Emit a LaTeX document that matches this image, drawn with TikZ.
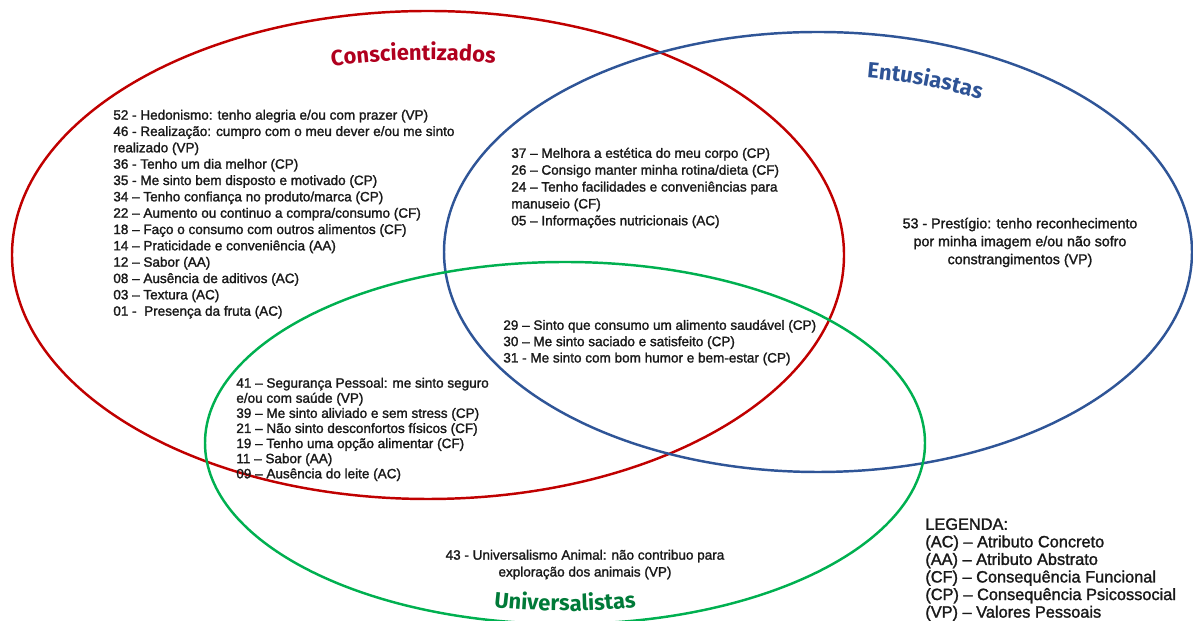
\documentclass[tikz,border=0pt]{standalone}
\usepackage{fontspec}
\setmainfont{Liberation Sans}[FakeBold=1.6]
\newfontfamily\titlefont{Fira Sans}
\usetikzlibrary{decorations.text}
\definecolor{consred}{HTML}{C00000}
\definecolor{entblue}{HTML}{2F5597}
\definecolor{univgreen}{HTML}{00B050}
\definecolor{consdark}{HTML}{B0001E}
\definecolor{entdark}{HTML}{2E5395}
\definecolor{univdark}{HTML}{007A38}
\tikzset{
  venn/.style={line width=1.4pt},
  item/.style={inner sep=0pt, align=left, anchor=north west, text=black!90,
    font=\fontsize{7.7}{9.3}\selectfont},
  itemc/.style={inner sep=0pt, align=center, anchor=north, text=black!90,
    font=\fontsize{7.7}{9.6}\selectfont},
  title/.style={decorate, decoration={text along path, text align=center,
    text color=#1}},
}
\begin{document}
\begin{tikzpicture}[x=0.02cm,y=0.02cm]
  \useasboundingbox (0,0) rectangle (1193,621);
  \coordinate (cRed) at (428,366);
  \coordinate (cBlue) at (818,369);
  \coordinate (cGreen) at (565,178);
  \draw[venn,consred] (cRed) ellipse [x radius=416, y radius=244];
  \draw[venn,entblue] (cBlue) ellipse [x radius=374, y radius=220];
  \draw[venn,univgreen] (cGreen) ellipse [x radius=360, y radius=181];

  \path[title=consdark, decoration={text={|\titlefont\bfseries\fontsize{12.5}{14}\selectfont|Conscientizados}}]
    (cRed) ++(123:370 and 195) arc[start angle=123, end angle=62, x radius=370, y radius=195];
  \path[title=entdark, decoration={text={|\titlefont\bfseries\fontsize{12.5}{14}\selectfont|Entusiastas}}]
    (cBlue) ++(90:324 and 176) arc[start angle=90, end angle=50, x radius=324, y radius=176];
  \path[title=univdark, decoration={text={|\titlefont\bfseries\fontsize{12.5}{14}\selectfont|Universalistas}}]
    (cGreen) ++(245:328 and 168) arc[start angle=245, end angle=295, x radius=328, y radius=168];

  \node[item] (conscOnly) at (113,511.5) {52 - Hedonismo: tenho alegria e/ou com prazer (VP)\\
    46 - Realização: cumpro com o meu dever e/ou me sinto\\
    realizado (VP)\\
    36 - Tenho um dia melhor (CP)\\
    35 - Me sinto bem disposto e motivado (CP)\\
    34 – Tenho confiança no produto/marca (CP)\\
    22 – Aumento ou continuo a compra/consumo (CF)\\
    18 – Faço o consumo com outros alimentos (CF)\\
    14 – Praticidade e conveniência (AA)\\
    12 – Sabor (AA)\\
    08 – Ausência de aditivos (AC)\\
    03 – Textura (AC)\\
    01 -\ \ Presença da fruta (AC)};
  \node[item, font=\fontsize{7.7}{9.6}\selectfont] (consEnt) at (511,473.5) {37 – Melhora a estética do meu corpo (CP)\\
    26 – Consigo manter minha rotina/dieta (CF)\\
    24 – Tenho facilidades e conveniências para\\
    manuseio (CF)\\
    05 – Informações nutricionais (AC)};
  \node[itemc, font=\fontsize{8.1}{10.2}\selectfont] (entOnly) at (1020,403.5) {53 - Prestígio: tenho reconhecimento\\
    por minha imagem e/ou não sofro\\
    constrangimentos (VP)};
  \node[item] (allThree) at (503,301.5) {29 – Sinto que consumo um alimento saudável (CP)\\
    30 – Me sinto saciado e satisfeito (CP)\\
    31 - Me sinto com bom humor e bem-estar (CP)};
  \node[item, font=\fontsize{7.7}{8.6}\selectfont] (consUniv) at (236,243.5) {41 – Segurança Pessoal: me sinto seguro\\
    e/ou com saúde (VP)\\
    39 – Me sinto aliviado e sem stress (CP)\\
    21 – Não sinto desconfortos físicos (CF)\\
    19 – Tenho uma opção alimentar (CF)\\
    11 – Sabor (AA)\\
    09 – Ausência do leite (AC)};
  \node[itemc] (univOnly) at (585,71.5) {43 - Universalismo Animal: não contribuo para\\
    exploração dos animais (VP)};
  \node[item, font=\fontsize{9.3}{10}\selectfont] (legenda) at (925,103) {LEGENDA:\\
    (AC) – Atributo Concreto\\
    (AA) – Atributo Abstrato\\
    (CF) – Consequência Funcional\\
    (CP) – Consequência Psicossocial\\
    (VP) – Valores Pessoais};
\end{tikzpicture}
\end{document}
